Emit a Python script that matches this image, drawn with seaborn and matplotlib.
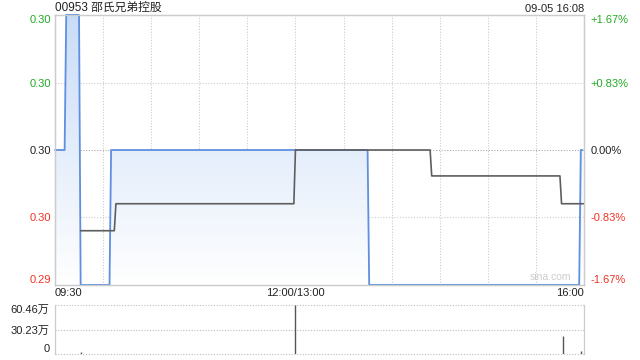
import matplotlib
matplotlib.use("Agg")
import matplotlib.pyplot as plt
import numpy as np
import pandas as pd
import seaborn as sns
from matplotlib.colors import LinearSegmentedColormap

sns.set_theme(style="white")
plt.rcParams['font.family'] = ['Liberation Sans', 'Noto Sans CJK SC', 'DejaVu Sans']

# ---- data ----
title_text = "00953 邵氏兄弟控股"
stamp_text = "09-05 16:08"
prev_close = 0.30

price_times = ["09:30", "09:36", "09:37", "09:45", "09:46", "10:04", "10:05",
               "13:45", "13:46", "15:57", "15:58", "15:59"]
price_values = [0.300, 0.300, 0.305, 0.305, 0.295, 0.295, 0.300,
                0.300, 0.295, 0.295, 0.300, 0.300]

avg_times = ["09:46", "10:07", "10:08", "11:59", "13:00", "14:24", "14:25",
             "15:45", "15:46", "16:00"]
avg_values = [0.29701, 0.29701, 0.29801, 0.29801, 0.300, 0.300, 0.29904,
              0.29904, 0.29801, 0.29801]

vol_times = ["09:46", "13:00", "14:23", "14:58", "15:47", "15:58"]
vol_values = [20000, 604600, 6000, 5000, 226000, 37000]

left_tick_labels = ["0.29", "0.30", "0.30", "0.30", "0.30"]
right_tick_labels = ["-1.67%", "-0.83%", "0.00%", "+0.83%", "+1.67%"]
tick_colors = ["#ee3322", "#ee3322", "#222222", "#22aa22", "#22aa22"]
pct_levels = [-0.016667, -0.008333, 0.0, 0.008333, 0.016667]

vol_tick_values = [0, 302300, 604600]
vol_tick_labels = ["0", "30.23万", "60.46万"]

x_tick_times = ["09:30", "13:00", "16:00"]
x_tick_labels = ["09:30", "12:00/13:00", "16:00"]
grid_times = ["10:00", "10:30", "11:00", "11:30", "12:00", "13:30", "14:00",
              "14:30", "15:00", "15:30"]


def tindex(t):
    h, m = map(int, t.split(":"))
    mins = h * 60 + m
    if mins <= 12 * 60:
        return mins - (9 * 60 + 30)
    return 150 + mins - 13 * 60


price_df = pd.DataFrame({"x": [tindex(t) for t in price_times], "y": price_values})
avg_df = pd.DataFrame({"x": [tindex(t) for t in avg_times], "y": avg_values})
vol_df = pd.DataFrame({"x": [tindex(t) for t in vol_times], "v": vol_values})

ylevels = [prev_close * (1 + p) for p in pct_levels]
ymin, ymax = ylevels[0], ylevels[-1]
xmin, xmax = 0, 330

fig = plt.figure(figsize=(6.4, 3.6), dpi=100)
ax = fig.add_axes([55 / 640, 75 / 360, 529 / 640, 270 / 360])
axv = fig.add_axes([55 / 640, 6 / 360, 529 / 640, 49 / 360])

# gradient fill under price
poly = ax.fill_between(price_df["x"], price_df["y"], ymin, facecolor="none", edgecolor="none")
cmap = LinearSegmentedColormap.from_list("g", ["#ffffff", "#c9dcf7"])
grad = np.linspace(0, 1, 256).reshape(-1, 1)
im = ax.imshow(grad, cmap=cmap, origin="lower", aspect="auto",
               extent=[xmin, xmax, ymin, ymax], zorder=1)
im.set_clip_path(poly.get_paths()[0], transform=ax.transData)

# grid lines
grid_x = [tindex(t) if t != "12:00" else 150 for t in grid_times]
for gx in grid_x:
    ax.axvline(gx, color="#cccccc", lw=0.8, ls=(0, (1, 1.5)), zorder=0.5)
for yl in ylevels[1:-1]:
    c = "#aaaaaa" if abs(yl - prev_close) < 1e-9 else "#cccccc"
    ax.axhline(yl, color=c, lw=0.8, ls=(0, (1, 1.5)), zorder=0.5)

sns.lineplot(data=price_df, x="x", y="y", ax=ax, color="#5f8fdf", lw=1.3,
             estimator=None, sort=False, zorder=3, clip_on=False)
sns.lineplot(data=avg_df, x="x", y="y", ax=ax, color="#5e5e5e", lw=1.2,
             estimator=None, sort=False, zorder=4, clip_on=False)

ax.set_xlim(xmin, xmax)
ax.set_ylim(ymin, ymax)
ax.set_xlabel("")
ax.set_ylabel("")

ax.set_yticks(ylevels)
ax.set_yticklabels(left_tick_labels, fontsize=8)
for lab, c in zip(ax.get_yticklabels(), tick_colors):
    lab.set_color(c)
ax.get_yticklabels()[0].set_va("bottom")
ax.get_yticklabels()[-1].set_va("top")
ax.tick_params(axis="y", length=0, pad=3)

ax.set_xticks([tindex(t) if t != "12:00" else 150 for t in x_tick_times])
ax.set_xticklabels(x_tick_labels, fontsize=8, color="#222222")
xl = ax.get_xticklabels()
xl[0].set_ha("left")
xl[-1].set_ha("right")
ax.tick_params(axis="x", length=0, pad=2.5)

axr = ax.twinx()
axr.set_ylim(ymin, ymax)
axr.set_yticks(ylevels)
axr.set_yticklabels(right_tick_labels, fontsize=8)
for lab, c in zip(axr.get_yticklabels(), tick_colors):
    lab.set_color(c)
axr.get_yticklabels()[0].set_va("bottom")
axr.get_yticklabels()[-1].set_va("top")
axr.tick_params(axis="y", length=0, pad=4.5)
axr.grid(False)

for a in (ax, axr):
    for s in a.spines.values():
        s.set_color("#cccccc")
        s.set_linewidth(0.9)

ax.text(0.0, 1.005, title_text, transform=ax.transAxes, ha="left", va="bottom",
        fontsize=8.5, color="#222222")
ax.text(1.0, 1.005, stamp_text, transform=ax.transAxes, ha="right", va="bottom",
        fontsize=8, color="#222222")
ax.text(0.975, 0.01, "sina.com", transform=ax.transAxes, ha="right", va="bottom",
        fontsize=7.5, color="#cccccc", zorder=2)

# volume pane
axv.vlines(vol_df["x"], 0, vol_df["v"], color="#555555", lw=1.0, zorder=3)
axv.set_xlim(xmin, xmax)
axv.set_ylim(0, vol_tick_values[-1])
axv.set_xticks([])
axv.set_yticks(vol_tick_values)
axv.set_yticklabels(vol_tick_labels, fontsize=8, color="#222222")
vl = axv.get_yticklabels()
vl[0].set_va("bottom")
vl[-1].set_va("top")
axv.tick_params(axis="y", length=0, pad=4)
for yv in vol_tick_values:
    axv.axhline(yv, color="#bbbbbb", lw=0.8, ls=(0, (1, 1.5)), zorder=1, clip_on=False)
axv.spines["top"].set_visible(False)
axv.spines["bottom"].set_visible(False)
for k in ("left", "right"):
    axv.spines[k].set_color("#cccccc")
    axv.spines[k].set_linewidth(0.9)

fig.savefig("out.png", dpi=100)
